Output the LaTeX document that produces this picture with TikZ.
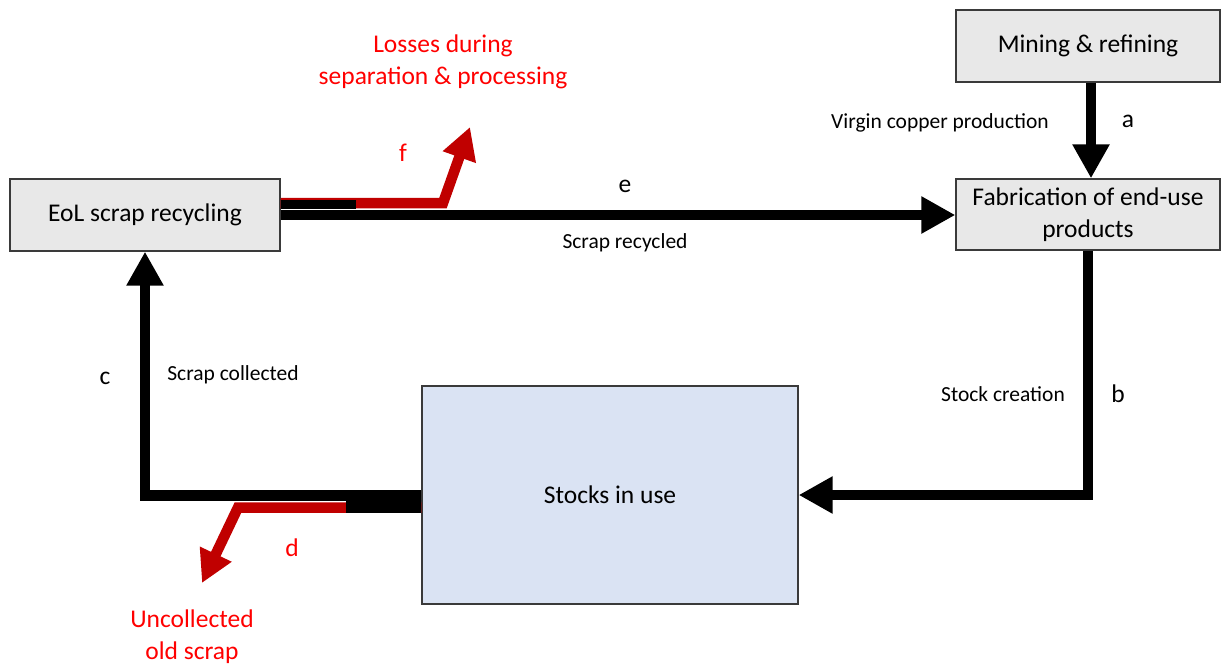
\documentclass[tikz,border=0pt]{standalone}
\usepackage{fontspec}
\setmainfont{Carlito}
\usetikzlibrary{arrows.meta,calc}
\definecolor{boxgray}{HTML}{E8E8E8}
\definecolor{stockblue}{HTML}{DAE3F3}
\definecolor{flowred}{HTML}{C00000}
\definecolor{textred}{HTML}{FF0000}
\definecolor{edgegray}{HTML}{3A3A3A}
\begin{document}
\begin{tikzpicture}[x=1pt,y=-1pt,
  big/.style={font=\fontsize{25.5}{31}\selectfont},
  small/.style={font=\fontsize{21.5}{26}\selectfont},
  redtext/.style={big, text=textred, align=center},
  graybox/.style={draw=edgegray, line width=1.3pt, fill=boxgray, inner sep=0pt, big, align=center},
  bluebox/.style={draw=edgegray, line width=1.3pt, fill=stockblue, inner sep=0pt, big},
  flow/.style={line width=10.5pt, line join=miter, -{Triangle[length=34pt,width=35pt]}},
  redflow/.style={draw=flowred, line width=10.5pt, line join=miter, -{Triangle[length=32pt,width=33pt]}, color=flowred},
  blackbar/.style={line width=9pt, line cap=butt}
]
\path[use as bounding box] (0,0) rectangle (1221,667);

% boxes
\node[graybox, minimum width=264pt, minimum height=72pt] (mine) at (1088,46) {Mining \& refining};
\node[graybox, minimum width=264pt, minimum height=71pt] (fab) at (1088,214.5) {Fabrication of end-use\\[1pt]products};
\node[graybox, minimum width=270pt, minimum height=72pt] (eol) at (145,215) {EoL scrap recycling};
\node[bluebox, minimum width=376pt, minimum height=218pt] (stock) at (610,495) {Stocks in use};

% a: virgin copper production
\draw[flow] ($(mine.south)+(3,0)$) -- ($(fab.north)+(3,0)$);
% b: stock creation
\draw[flow] (fab.south) |- (stock.east);
% f: losses (red), drawn under the black part
\coordinate (fbend) at (443,203);
\coordinate (ftip) at (470,127);
\draw[redflow] ($(eol.east)+(0,-12)$) -- (fbend) -- (ftip);
\draw[blackbar] ($(eol.east)+(0,-11)$) -- ($(eol.east)+(75,-11)$);
% e: scrap recycled
\draw[flow] (eol.east) -- (fab.west |- eol.east);
% d: uncollected (red), drawn under the black part
\coordinate (dbend) at (238,507.5);
\coordinate (dtip) at (202,583);
\draw[redflow] ($(stock.west)+(0,12.5)$) -- (dbend) -- (dtip);
\draw[blackbar, line width=23pt] ($(stock.west)+(0,6.5)$) -- ($(stock.west)+(-75,6.5)$);
% c: scrap collected
\draw[flow] ($(stock.west)+(0,0.5)$) -| (eol.south);

% labels
\node[redtext] (losses) at (443,62) {Losses during\\[1pt]separation \& processing};
\node[redtext] (uncol) at (192,637) {Uncollected\\[1pt]old scrap};
\node[small] (lvcp) at (940,123) {Virgin copper production};
\node[big] (la) at (1128,121) {a};
\node[big, text=textred] (lf) at (403,153) {f};
\node[big] (le) at (625,186) {e};
\node[small] (lsr) at (625,243) {Scrap recycled};
\node[big] (lc) at (105,378) {c};
\node[small] (lsc) at (233,375) {Scrap collected};
\node[small] (lsk) at (1003,394) {Stock creation};
\node[big] (lb) at (1118,394) {b};
\node[big, text=textred] (ld) at (292,548) {d};
\end{tikzpicture}
\end{document}
